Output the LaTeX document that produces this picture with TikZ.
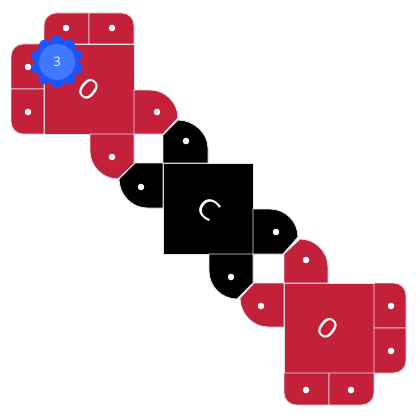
\documentclass[tikz,border=0pt]{standalone}
\usepackage{graphicx}
\usepackage{fontspec}
\setmainfont{Open Sans}
\definecolor{crim}{HTML}{C32039}
\definecolor{edge}{HTML}{DDE2EC}
\definecolor{scallop}{HTML}{1A56FF}
\definecolor{badge}{HTML}{4078FF}
\newcommand{\glyph}[1]{\scalebox{1.15}[1]{#1}}
\tikzset{
  redpart/.style={fill=crim,draw=edge,line width=0.9pt,line join=round},
  blackpart/.style={fill=black,draw=edge,line width=0.9pt,line join=round},
  hole/.style={circle,fill=white,inner sep=0pt,minimum size=6.6pt},
  letter/.style={text=white,font=\fontsize{28}{28}\selectfont,inner sep=0pt,rotate=-38}
}
\begin{document}
\begin{tikzpicture}[x=1pt,y=-1pt]
\useasboundingbox (0,0) rectangle (417,420);
% --- top-left red cluster
\draw[redpart] (44,44) rectangle (134,134);
\draw[redpart] (44,44) -- (44,25) .. controls +(0,-6.6) and +(-6.6,0) .. (56,13) -- (89,13) -- (89,44) -- cycle;
\draw[redpart] (89,44) -- (89,13) -- (122,13) .. controls +(6.6,0) and +(0,-6.6) .. (134,25) -- (134,44) -- cycle;
\draw[redpart] (44,44) -- (23,44) .. controls +(-6.6,0) and +(0,-6.6) .. (11,56) -- (11,89) -- (44,89) -- cycle;
\draw[redpart] (44,89) -- (11,89) -- (11,122) .. controls +(0,6.6) and +(-6.6,0) .. (23,134) -- (44,134) -- cycle;
\draw[redpart] (134,90) -- (150,90) .. controls +(15.4,0) and +(0,-15.4) .. (178,118) -- (163,134) -- (134,134) -- cycle;
\draw[redpart] (90,134) -- (90,151) .. controls +(0,15.4) and +(-15.4,0) .. (118,179) -- (134,164) -- (134,134) -- cycle;
\foreach \x/\y in {66/28,112/28,28/67,28/112,157/112,112/157} \node[hole] at (\x,\y) {};
\node[letter] (o1) at (88.5,89) {\glyph{0}};
% --- centre black cluster
\draw[blackpart] (163,163) rectangle (253,254);
\draw[blackpart] (163,163) -- (163,135) -- (178,120) .. controls +(15.4,0) and +(0,-15.4) .. (208,148) -- (208,163) -- cycle;
\draw[blackpart] (163,163) -- (135,163) -- (119,179) .. controls +(0,15.4) and +(-15.4,0) .. (147,208) -- (163,208) -- cycle;
\draw[blackpart] (253,209) -- (270,209) .. controls +(15.4,0) and +(0,-15.4) .. (298,237) -- (283,254) -- (253,254) -- cycle;
\draw[blackpart] (209,254) -- (209,271) .. controls +(0,15.4) and +(-15.4,0) .. (237,299) -- (253,283) -- (253,254) -- cycle;
\foreach \x/\y in {186/141,141/187,276/232,231/277} \node[hole] at (\x,\y) {};
\node[letter] (c1) at (209,209) {\glyph{C}};
% --- bottom-right red cluster
\draw[redpart] (284,283) rectangle (374,373);
\draw[redpart] (284,283) -- (284,254) -- (300,239) .. controls +(15.4,0) and +(0,-15.4) .. (328,267) -- (328,283) -- cycle;
\draw[redpart] (284,283) -- (254,283) -- (240,298) .. controls +(0,15.4) and +(-15.4,0) .. (268,327) -- (284,327) -- cycle;
\draw[redpart] (374,283) -- (394,283) .. controls +(6.6,0) and +(0,-6.6) .. (406,295) -- (406,328) -- (374,328) -- cycle;
\draw[redpart] (374,328) -- (406,328) -- (406,361) .. controls +(0,6.6) and +(6.6,0) .. (394,373) -- (374,373) -- cycle;
\draw[redpart] (284,373) -- (284,393) .. controls +(0,6.6) and +(-6.6,0) .. (296,405) -- (329,405) -- (329,373) -- cycle;
\draw[redpart] (329,373) -- (329,405) -- (362,405) .. controls +(6.6,0) and +(0,6.6) .. (374,393) -- (374,373) -- cycle;
\foreach \x/\y in {306/260,261/306,391/306,391/351,306/390,351/390} \node[hole] at (\x,\y) {};
\node[letter] (o2) at (327.5,328) {\glyph{0}};
% --- badge
\foreach \a in {0,36,...,324} \fill[scallop] (57,62) ++(\a+18:20) circle (6.3);
\fill[scallop] (57,62) circle (20);
\fill[badge] (57,62) circle (18);
\node[text=white,font=\fontsize{13}{13}\selectfont,inner sep=0pt] (b) at (57,62) {3};
\end{tikzpicture}
\end{document}
